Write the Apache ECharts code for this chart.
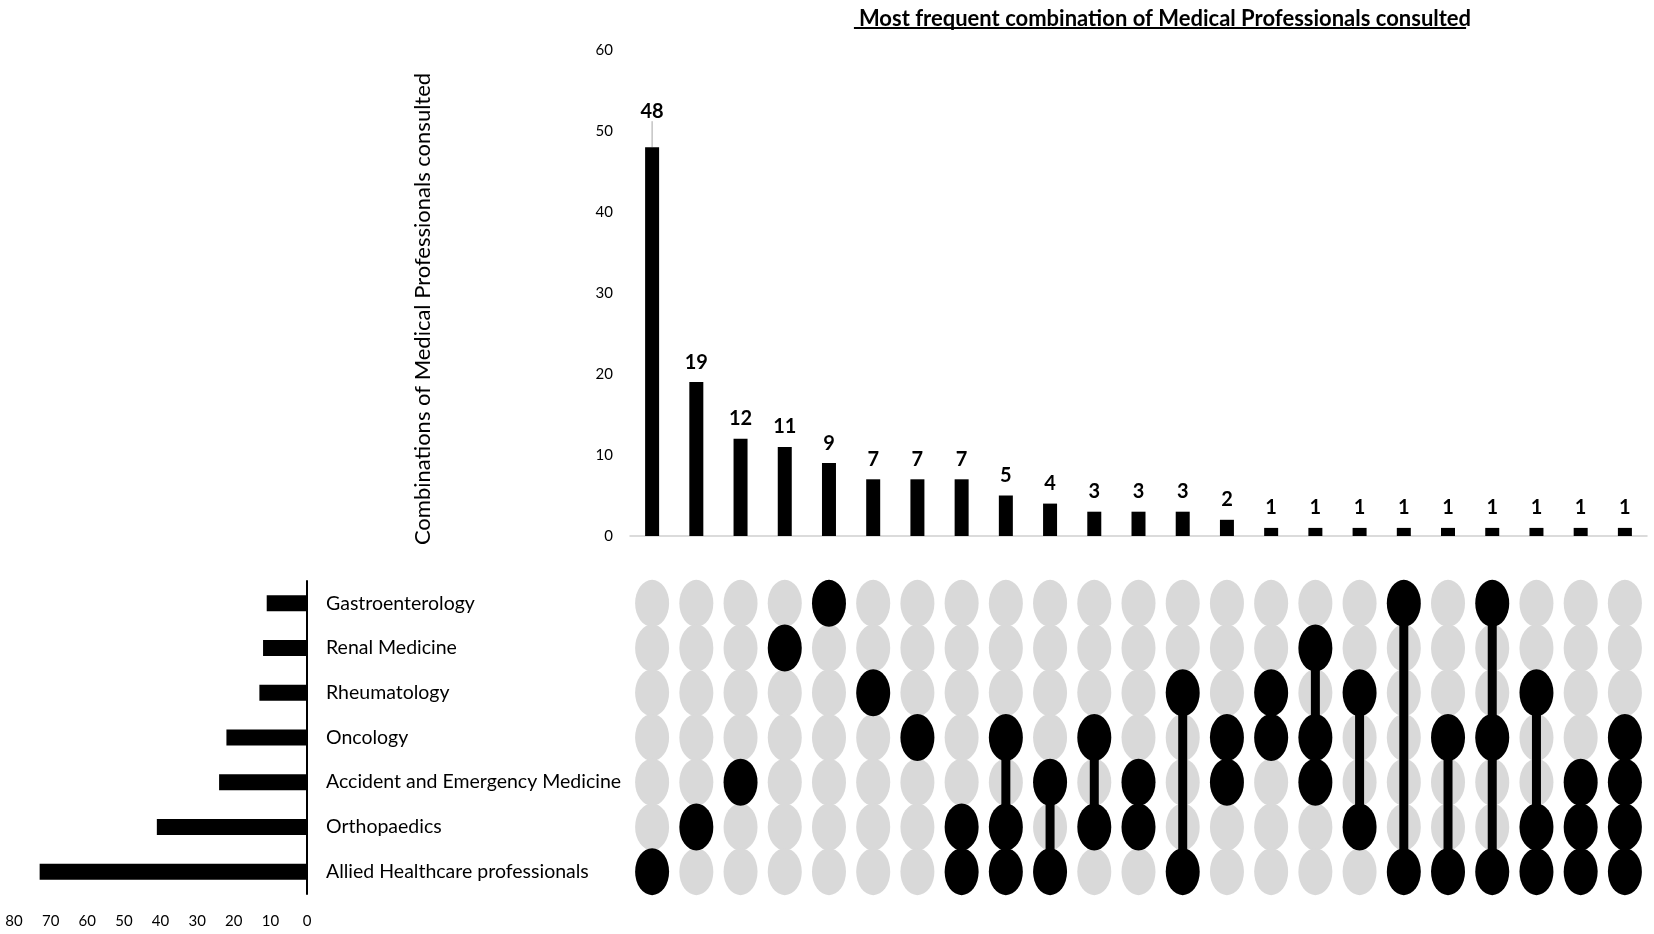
<!DOCTYPE html>
<html>
<head>
<meta charset="utf-8">
<script src="https://cdn.jsdelivr.net/npm/echarts@6/dist/echarts.min.js"></script>
<style>
  html, body { margin: 0; padding: 0; background: #fff; }
  #main { width: 1654px; height: 934px; }
</style>
</head>
<body>
<div id="main"></div>
<script>
var chartDom = document.getElementById('main');
var myChart = echarts.init(chartDom);
var option;

var FONT = 'Lato';

// professions, top row first
var professions = [
    'Gastroenterology',
    'Renal Medicine',
    'Rheumatology',
    'Oncology',
    'Accident and Emergency Medicine',
    'Orthopaedics',
    'Allied Healthcare professionals'
];
var professionTotals = [11, 12, 13, 22, 24, 41, 73];

// combination counts (left to right) and the professions in each (index into professions)
var comboCounts = [48, 19, 12, 11, 9, 7, 7, 7, 5, 4, 3, 3, 3, 2, 1, 1, 1, 1, 1, 1, 1, 1, 1];
var comboMembers = [
    [6], [5], [4], [1], [0], [2], [3],
    [5, 6], [3, 5, 6], [4, 6], [3, 5], [4, 5], [2, 6], [3, 4], [2, 3],
    [1, 3, 4], [2, 5], [0, 6], [3, 6], [0, 3, 6], [2, 5, 6], [4, 5, 6], [3, 4, 5, 6]
];
var comboNames = comboCounts.map(function (v, i) { return 'C' + (i + 1); });
var countTicks = [0, 10, 20, 30, 40, 50, 60];
var totalTicks = [0, 10, 20, 30, 40, 50, 60, 70, 80];

var titleText = 'Most frequent combination of Medical Professionals consulted';

// matrix data
var emptyDots = [];
var filledDots = [];
var connectors = [];
comboMembers.forEach(function (members, c) {
    professions.forEach(function (p, r) {
        if (members.indexOf(r) < 0) emptyDots.push([c, r]);
    });
    members.forEach(function (r) { filledDots.push([c, r]); });
    if (members.length > 1) {
        connectors.push([c, Math.min.apply(null, members), Math.max.apply(null, members)]);
    }
});

// the tallest bar's label is lifted, with a leader line
var barData = comboCounts.map(function (v, i) {
    if (i === 0) return { value: v, labelLine: { show: true } };
    return v;
});

// underline width for the title
var ctx = document.createElement('canvas').getContext('2d');
ctx.font = 'bold 22px ' + FONT;
var titleW = ctx.measureText(titleText).width;
var titleX = 1160;

var gridLeft = 630, gridWidth = 1017;
var matTop = 581, matHeight = 313;
var dotSize = [34, 47];

option = {
    backgroundColor: '#fff',
    textStyle: { fontFamily: FONT },
    animation: false,
    title: {
        text: titleText,
        left: titleX,
        top: 3,
        textAlign: 'center',
        textStyle: { fontFamily: FONT, fontSize: 22, fontWeight: 'bold', color: '#000' }
    },
    graphic: [{
        type: 'line',
        shape: { x1: titleX - titleW / 2, y1: 28, x2: titleX + titleW / 2, y2: 28 },
        style: { stroke: '#000', lineWidth: 1.8 }
    }],
    grid: [
        { left: gridLeft, width: gridWidth, top: 50, height: 486 },
        { left: gridLeft, width: gridWidth, top: matTop, height: matHeight },
        { left: 14, width: 293, top: matTop, height: matHeight }
    ],
    xAxis: [{
        gridIndex: 0,
        type: 'category',
        data: comboNames,
        axisLine: { lineStyle: { color: '#d0d0d0', width: 1.5 } },
        axisTick: { show: false },
        axisLabel: { show: false }
    }, {
        gridIndex: 1,
        type: 'category',
        data: comboNames,
        show: false
    }, {
        gridIndex: 2,
        type: 'value',
        inverse: true,
        min: totalTicks[0],
        max: totalTicks[totalTicks.length - 1],
        interval: 10,
        axisLine: { show: false },
        axisTick: { show: false },
        splitLine: { show: false },
        axisLabel: { fontFamily: FONT, fontSize: 15, color: '#000', margin: 20 }
    }],
    yAxis: [{
        gridIndex: 0,
        type: 'value',
        min: countTicks[0],
        max: countTicks[countTicks.length - 1],
        interval: 10,
        name: 'Combinations of Medical Professionals consulted',
        nameLocation: 'middle',
        nameGap: 196,
        nameTextStyle: { fontFamily: FONT, fontSize: 22, color: '#000', padding: [0, 32, 0, 0] },
        axisLine: { show: false },
        axisTick: { show: false },
        splitLine: { show: false },
        axisLabel: { fontFamily: FONT, fontSize: 15, color: '#000', margin: 17 }
    }, {
        gridIndex: 1,
        type: 'category',
        data: professions,
        inverse: true,
        show: false
    }, {
        gridIndex: 2,
        type: 'category',
        data: professions,
        inverse: true,
        position: 'right',
        axisLine: { show: true, lineStyle: { color: '#000', width: 2 } },
        axisTick: { show: false },
        axisLabel: { fontFamily: FONT, fontSize: 19.5, color: '#000', margin: 19 }
    }],
    series: [{
        type: 'bar',
        xAxisIndex: 0,
        yAxisIndex: 0,
        data: barData,
        barWidth: 14,
        itemStyle: { color: '#000' },
        label: {
            show: true,
            position: 'top',
            distance: 10,
            fontFamily: FONT,
            fontSize: 20,
            fontWeight: 'bold',
            color: '#000'
        },
        labelLayout: function (params) {
            if (params.dataIndex === 0) return { dy: -16 };
        },
        labelLine: { show: false, lineStyle: { color: '#a6a6a6', width: 1 } }
    }, {
        type: 'scatter',
        xAxisIndex: 1,
        yAxisIndex: 1,
        data: emptyDots,
        symbol: 'circle',
        symbolSize: dotSize,
        itemStyle: { color: '#d9d9d9', opacity: 1 },
        z: 1
    }, {
        type: 'custom',
        xAxisIndex: 1,
        yAxisIndex: 1,
        data: connectors,
        encode: { x: 0, y: [1, 2] },
        renderItem: function (params, api) {
            var a = api.coord([api.value(0), api.value(1)]);
            var b = api.coord([api.value(0), api.value(2)]);
            return {
                type: 'rect',
                shape: { x: a[0] - 4.5, y: a[1], width: 9, height: b[1] - a[1] },
                style: { fill: '#000' }
            };
        },
        z: 2
    }, {
        type: 'scatter',
        xAxisIndex: 1,
        yAxisIndex: 1,
        data: filledDots,
        symbol: 'circle',
        symbolSize: dotSize,
        itemStyle: { color: '#000', opacity: 1 },
        z: 3
    }, {
        type: 'bar',
        xAxisIndex: 2,
        yAxisIndex: 2,
        data: professionTotals,
        barWidth: 16,
        itemStyle: { color: '#000' }
    }]
};

option && myChart.setOption(option);
</script>
</body>
</html>
